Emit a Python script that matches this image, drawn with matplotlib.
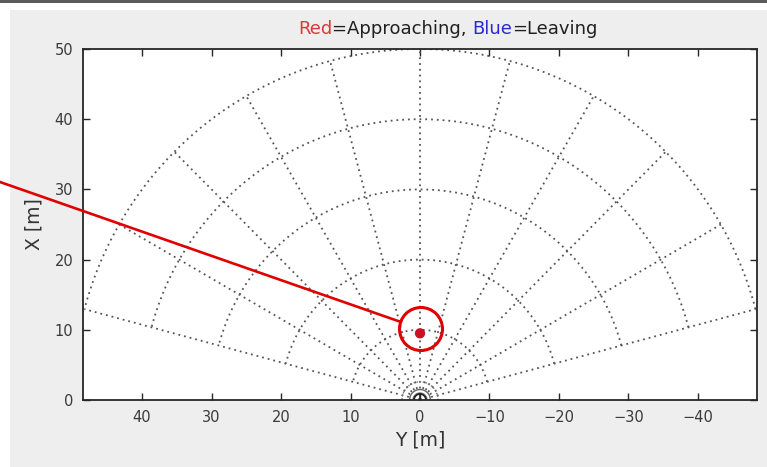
import numpy as np
import matplotlib
matplotlib.use("Agg")
import matplotlib.pyplot as plt
from matplotlib.patches import Rectangle, Ellipse
from matplotlib.lines import Line2D

# ---- data ----
ring_radii = [10, 20, 30, 40, 50]           # dotted range rings [m]
spoke_angles_deg = [-75, -60, -45, -30, -15, 0, 15, 30, 45, 60, 75]
near_rings = [0.85, 1.5, 2.6]                # small marks at sensor origin
target_Y = [0.0]                             # approaching target (red)
target_X = [9.5]
target_colors = ["#cc1122"]
xticks_vals = [40, 30, 20, 10, 0, -10, -20, -30, -40]
yticks_vals = [0, 10, 20, 30, 40, 50]

W, H = 767, 467
fig = plt.figure(figsize=(W / 100, H / 100), dpi=100, facecolor="white")

# figure panel (MATLAB-like gray) and top border line
fig.patches.append(Rectangle((10 / W, 0), 1 - 10 / W, 1 - 10 / H, transform=fig.transFigure,
                             facecolor="#eeeeee", edgecolor="none", zorder=-10))
fig.patches.append(Rectangle((0, 1 - 3 / H), 1, 3 / H, transform=fig.transFigure,
                             facecolor="#5a5a5a", edgecolor="none", zorder=-9))

L, R, T, B = 83, 757, 49, 400
ax = fig.add_axes([L / W, 1 - B / H, (R - L) / W, (B - T) / H])
ax.set_facecolor("white")

grid_color = "#555555"
for r in ring_radii:
    th = np.radians(np.linspace(-75, 75, 400))
    ax.plot(r * np.sin(th), r * np.cos(th), linestyle=(0, (1, 2.2)), color=grid_color, lw=1.3)
for a in spoke_angles_deg:
    t = np.radians(a)
    ax.plot([0, 50 * np.sin(t)], [0, 50 * np.cos(t)], linestyle=(0, (1, 2.2)),
            color=grid_color, lw=1.3)

# small marks at origin
th = np.radians(np.linspace(-90, 90, 200))
ax.plot(near_rings[0] * np.sin(th), near_rings[0] * np.cos(th), color="#222222", lw=1.2)
ax.plot(near_rings[1] * np.sin(th), near_rings[1] * np.cos(th), color="#666666", lw=1.0)
ax.plot(near_rings[2] * np.sin(th), near_rings[2] * np.cos(th), color="#777777", lw=1.0,
        linestyle=(0, (1, 1.2)))
ax.plot([0, 0], [0, near_rings[0]], color="#222222", lw=1.2)

# target
ax.scatter(target_Y, target_X, s=55, c=target_colors, zorder=5, edgecolors="none")

ax.set_xlim(48.5, -48.5)
ax.set_ylim(0, 50)
ax.set_xticks(xticks_vals)
ax.set_xticklabels([str(v).replace("-", "\u2212") for v in xticks_vals])
ax.set_yticks(yticks_vals)
ax.set_yticklabels([str(v) for v in yticks_vals])
ax.tick_params(direction="in", length=5, width=1.0, top=True, right=True,
               labelsize=10.5, labelcolor="#3a3a3a", color="#262626", pad=7)
for s in ax.spines.values():
    s.set_color("#262626")
    s.set_linewidth(1.3)

ax.set_xlabel("Y [m]", fontsize=13.5, color="#333333", labelpad=4)
ax.set_ylabel("X [m]", fontsize=13.5, color="#333333", labelpad=8)

# multi-colored title
renderer = fig.canvas.get_renderer()
parts = [("Red", "#d83a3a"), ("=Approaching, ", "#202020"), ("Blue", "#2a2ad0"), ("=Leaving", "#202020")]
texts = []
for s, c in parts:
    texts.append(fig.text(0, 0, s, color=c, fontsize=13, transform=None, va="baseline"))
widths = [t.get_window_extent(renderer).width for t in texts]
total = sum(widths)
cx = 448
base_y = H - 34
x = cx - total / 2
for t, w in zip(texts, widths):
    t.set_position((x, base_y))
    x += w

# red annotation: circle around target and leader line
cxp, cyp, rp = 421, 329, 21.5
fig.patches.append(Ellipse((cxp / W, 1 - cyp / H), 2 * rp / W, 2 * rp / H,
                           transform=fig.transFigure, facecolor="none",
                           edgecolor="#e00000", lw=2.2, zorder=20))
x0, y0 = 0, 182
ang = np.arctan2(cyp - y0, cxp - x0)
x1 = cxp - rp * np.cos(ang)
y1 = cyp - rp * np.sin(ang)
fig.lines.append(Line2D([x0 / W, x1 / W], [1 - y0 / H, 1 - y1 / H], transform=fig.transFigure,
                        color="#e00000", lw=1.9, zorder=20))

fig.savefig("out.png", dpi=100, facecolor="white")
